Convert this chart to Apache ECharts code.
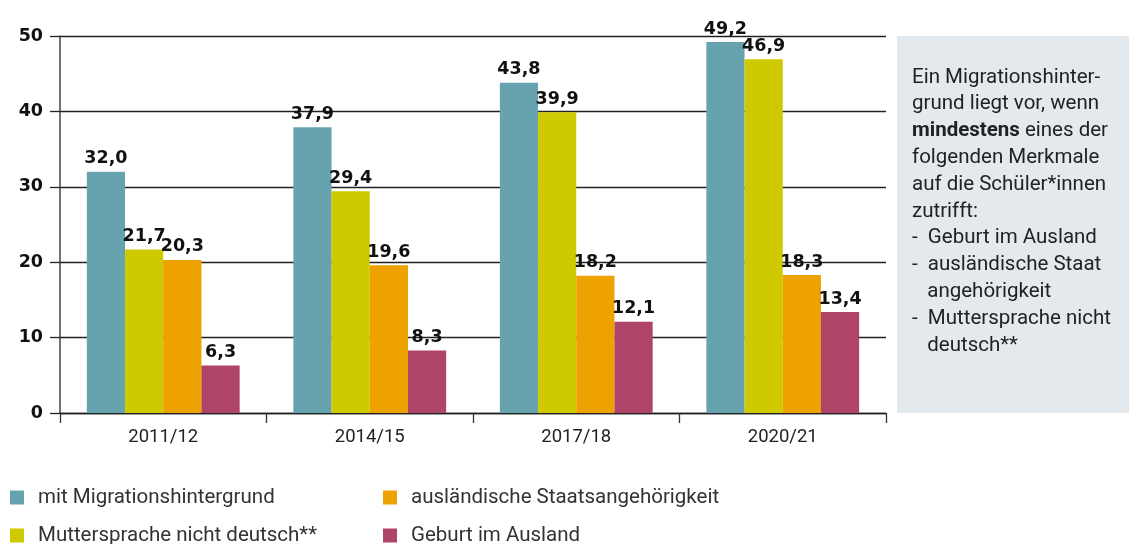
<!DOCTYPE html>
<html>
<head>
<meta charset="utf-8">
<script src="https://cdn.jsdelivr.net/npm/echarts@6/dist/echarts.min.js"></script>
<style>
  html, body { margin: 0; padding: 0; background: #fff; }
  #chart { width: 1129px; height: 544px; }
</style>
</head>
<body>
<div id="chart"></div>
<script>
// data
const years = ['2011/12', '2014/15', '2017/18', '2020/21'];
const seriesNames = [
  'mit Migrationshintergrund',
  'Muttersprache nicht deutsch**',
  'ausländische Staatsangehörigkeit',
  'Geburt im Ausland'
];
const migration = [32.0, 37.9, 43.8, 49.2];
const mutterspracheNichtDeutsch = [21.7, 29.4, 39.9, 46.9];
const auslaendisch = [20.3, 19.6, 18.2, 18.3];
const geburtAusland = [6.3, 8.3, 12.1, 13.4];
const yTicks = [0, 10, 20, 30, 40, 50];

const colors = ['#66a3ae', '#cfc900', '#eea200', '#ae4468'];
const values = [migration, mutterspracheNichtDeutsch, auslaendisch, geburtAusland];

const infoText = [
  'Ein Migrationshinter-',
  'grund liegt vor, wenn',
  '{b|mindestens} eines der',
  'folgenden Merkmale',
  'auf die Schüler*innen',
  'zutrifft:',
  '-  Geburt im Ausland',
  '-  ausländische Staat',
  '   angehörigkeit',
  '-  Muttersprache nicht',
  '   deutsch**'
].join('\n');

const chart = echarts.init(document.getElementById('chart'));
const boldFont = '"DejaVu Sans", sans-serif';
const sans = 'Roboto, "Liberation Sans", sans-serif';

// legend positions: two columns, two rows
const legendSpots = [[10, 487], [10, 525], [383, 487], [383, 525]];

const option = {
  animation: false,
  color: colors,
  grid: { left: 60, right: 243, top: 36, bottom: 131 },
  legend: seriesNames.map((name, i) => ({
    data: [name],
    left: legendSpots[i][0],
    top: legendSpots[i][1],
    padding: 0,
    icon: 'rect',
    itemWidth: 14,
    itemHeight: 14,
    selectedMode: false,
    textStyle: { fontFamily: sans, fontSize: 20.5, lineHeight: 16, color: '#333', padding: [0, 0, 0, 9] }
  })),
  xAxis: {
    type: 'category',
    data: years,
    axisLine: { lineStyle: { color: '#222', width: 1.3 } },
    axisTick: { show: true, length: 10, lineStyle: { color: '#333', width: 1.3 } },
    axisLabel: { fontFamily: sans, fontSize: 18.5, color: '#222', margin: 15 }
  },
  yAxis: {
    type: 'value',
    min: yTicks[0],
    max: yTicks[yTicks.length - 1],
    interval: 10,
    axisLine: { show: true, lineStyle: { color: '#444', width: 1.5 } },
    axisTick: { show: true, length: 10, lineStyle: { color: '#222', width: 1.3 } },
    splitLine: { lineStyle: { color: '#222', width: 1.3 } },
    axisLabel: { fontFamily: boldFont, fontWeight: 'bold', fontSize: 17.5, color: '#111', margin: 17 }
  },
  series: seriesNames.map((name, i) => ({
    name: name,
    type: 'bar',
    data: values[i],
    barGap: '0%',
    barCategoryGap: '26%',
    itemStyle: { color: colors[i] },
    label: {
      show: true,
      position: 'top',
      distance: 4,
      fontFamily: boldFont,
      fontWeight: 'bold',
      fontSize: 17.5,
      color: '#111',
      formatter: p => p.value.toFixed(1).replace('.', ',')
    }
  })),
  graphic: [
    {
      type: 'rect',
      left: 897,
      top: 36,
      shape: { width: 232, height: 377 },
      style: { fill: '#e3e9ec' },
      z: -1
    },
    {
      type: 'text',
      left: 912,
      top: 64,
      style: {
        text: infoText,
        fontFamily: sans,
        fontSize: 20.5,
        lineHeight: 26.8,
        fill: '#222',
        rich: {
          b: { fontFamily: sans, fontWeight: 'bold', fontSize: 20.5, lineHeight: 26.8, fill: '#222' }
        }
      }
    }
  ]
};

chart.setOption(option);
window.addEventListener('resize', () => chart.resize());
</script>
</body>
</html>
